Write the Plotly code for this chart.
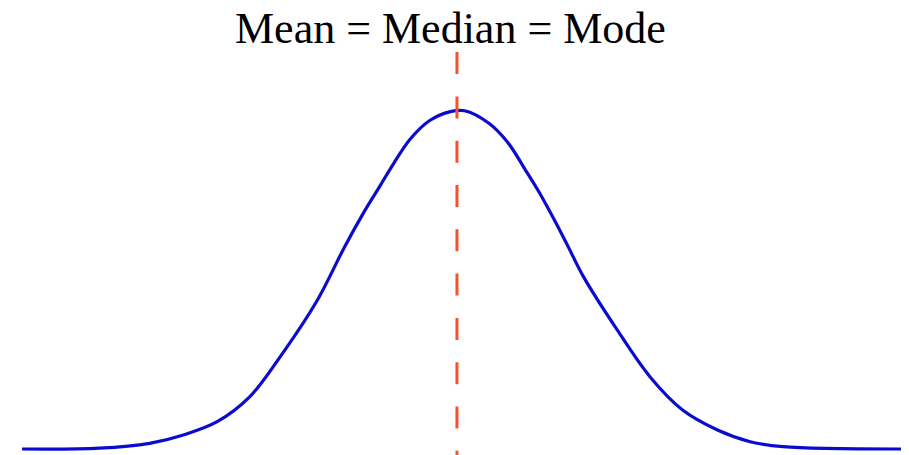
import plotly.graph_objects as go

# bell curve, x in standard deviations, y as density
x_vals = [-3.99, -3.28, -2.82, -2.51, -2.20, -1.90, -1.60, -1.28, -1.03, -0.86,
          -0.71, -0.58, -0.43, -0.25, -0.06, 0.07, 0.29, 0.47, 0.62, 0.75,
          0.90, 1.02, 1.16, 1.47, 1.77, 2.07, 2.39, 2.69, 2.99, 4.09]
y_vals = [0.0, 0.001, 0.0067, 0.0165, 0.0321, 0.0616, 0.1126, 0.1754, 0.2381, 0.2773,
          0.3087, 0.3362, 0.3645, 0.3865, 0.3970, 0.3980, 0.3835, 0.3600, 0.3300, 0.3030,
          0.2680, 0.2381, 0.2028, 0.1401, 0.0851, 0.0459, 0.0224, 0.0086, 0.0027, 0.0]

center = [0.0]          # mean = median = mode
line_top = [0.467]
title_text = "Mean = Median = Mode"

# page body has an 8px margin, so the figure is 8px smaller each way
W, H = 901, 447

fig = go.Figure()
fig.add_trace(go.Scatter(
    x=x_vals, y=y_vals, mode="lines",
    line=dict(color="#0b0bd0", width=3.2, shape="spline", smoothing=1.0),
    hoverinfo="skip", showlegend=False,
))

fig.add_shape(type="line", xref="x", yref="y",
              x0=center[0], x1=center[0], y0=line_top[0], y1=-0.03,
              line=dict(color="#f4512c", width=3, dash="22px,22.3px"))

fig.add_annotation(text=title_text, xref="paper", yref="paper",
                   x=442 / W, y=1 - 20.5 / H, xanchor="center", yanchor="middle",
                   showarrow=False,
                   font=dict(family="Liberation Serif", size=44, color="black"))

fig.update_layout(
    width=W, height=H,
    margin=dict(l=0, r=0, t=0, b=0),
    paper_bgcolor="white", plot_bgcolor="white",
    xaxis=dict(range=[-4.119, 4.147], visible=False, fixedrange=True),
    yaxis=dict(range=[-0.00706, 0.5189], visible=False, fixedrange=True),
)

fig.write_html("out.html")
